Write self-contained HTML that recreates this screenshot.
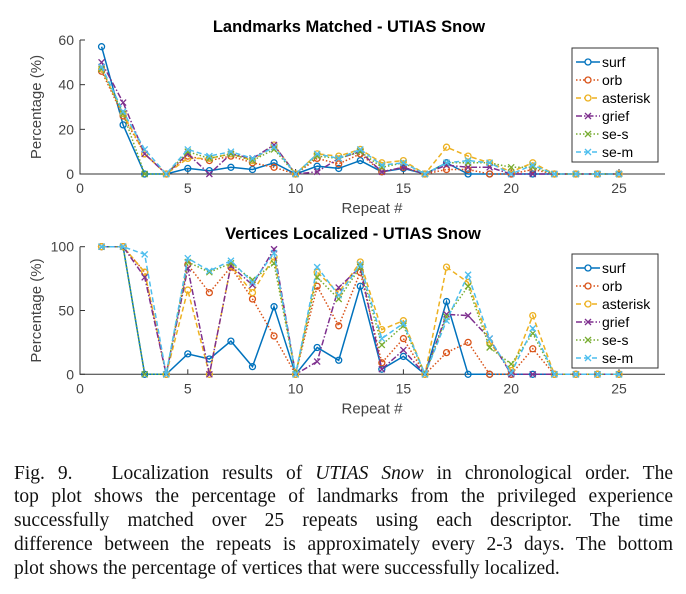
<!DOCTYPE html>
<html><head><meta charset="utf-8"><style>
body{margin:0;background:#fff;width:686px;height:594px;overflow:hidden;position:relative}
svg{position:absolute;left:0;top:0}
.cap{position:absolute;left:14px;width:659px;font-family:"Liberation Serif",serif;font-size:19.5px;color:#111;text-align:justify;text-align-last:justify;white-space:nowrap;line-height:24px}
</style></head><body>
<svg id="chart" width="686" height="460"></svg>
<div class="cap" style="top:462px">Fig. 9.&nbsp;&nbsp; Localization results of <i>UTIAS Snow</i> in chronological order. The</div>
<div class="cap" style="top:485px">top plot shows the percentage of landmarks from the privileged experience</div>
<div class="cap" style="top:509px">successfully matched over 25 repeats using each descriptor. The time</div>
<div class="cap" style="top:533px">difference between the repeats is approximately every 2-3 days. The bottom</div>
<div class="cap" style="top:557px;text-align-last:left">plot shows the percentage of vertices that were successfully localized.</div>
<script>
const repeats=[1,2,3,4,5,6,7,8,9,10,11,12,13,14,15,16,17,18,19,20,21,22,23,24,25];
const seriesNames=["surf","orb","asterisk","grief","se-s","se-m"];
const topSurf=[57,22,0,0,2.5,1.5,3,2,5,0,3.5,2.5,6,1,2.5,0,5,0,0,0,0,0,0,0,0];
const topOrb=[46,26,9,0,8,6,8,5,3,0,7,4.5,9,1,3,0,2,2,0,0,2,0,0,0,0];
const topAsterisk=[47,27,9,0,7,7,9,6,13,0,9,8,11,5,6,0,12,8,5,1,5,0,0,0,0];
const topGrief=[50,32,9,0,9,0,9,7,13,0,1,7,10,1,3,0,4,3,3,0,0,0,0,0,0];
const topSeS=[47,27,0,0,10,7,9,6,11,0,8,7,10,3,5,0,5,5,5,3,3,0,0,0,0];
const topSeM=[48,28,11,0,11,8,10,7,12,0,9,7,11,4,5,0,5,6,5,0,4,0,0,0,0];
const botSurf=[100,100,0,0,16,12,26,6,53,0,21,11,69,4,14,0,57,0,0,0,0,0,0,0,0];
const botOrb=[100,100,80,0,86,64,84,59,30,0,69,38,80,9,28,0,17,25,0,0,20,0,0,0,0];
const botAsterisk=[100,100,80,0,66,0,85,64,92,0,80,64,88,35,42,0,84,72,25,3,46,0,0,0,0];
const botGrief=[100,100,76,0,83,0,85,70,98,0,10,68,84,4,19,0,47,46,28,0,0,0,0,0,0];
const botSeS=[100,100,0,0,88,80,87,74,87,0,76,59,84,23,38,0,45,69,21,8,32,0,0,0,0];
const botSeM=[100,100,94,0,91,81,89,72,95,0,84,62,86,28,40,0,42,78,28,1,36,0,0,0,0];
const xTicks=[0,5,10,15,20,25];
const topYTicks=[0,20,40,60];
const botYTicks=[0,50,100];

const NS="http://www.w3.org/2000/svg";
const svg=document.getElementById('chart');
const colors=["#0072BD","#D95319","#EDB120","#7E2F8E","#77AC30","#4DBEEE"];
const dashes=["","1.5,2","5,3","6,2,1.5,2","1.5,2","5,3"];
const markers=["o","o","o","x","x","x"];
function mk(tag,attrs,parent){const e=document.createElementNS(NS,tag);for(const k in attrs)e.setAttribute(k,attrs[k]);(parent||svg).appendChild(e);return e;}
function xs(v){return 80+v*21.56;}

function drawPlot(cfg){
  const g=mk('g',{});
  
  
  const ys=v=>cfg.y0-(v/cfg.ymax)*(cfg.y0-cfg.ytop);
  const font='font-family:"Liberation Sans",Arial,sans-serif';
  const ax=mk('path',{d:`M80,${cfg.ytop}V${cfg.y0}H665`,stroke:'#333',fill:'none','stroke-width':1},g);
  
  
  xTicks.forEach(t=>{
    mk('line',{x1:xs(t),x2:xs(t),y1:cfg.y0,y2:cfg.y0-5,stroke:'#333'},g);
    const tx=mk('text',{x:xs(t),y:cfg.y0+19,'text-anchor':'middle','font-size':14,fill:'#444',style:font},g);
    tx.textContent=t;
    
    
  });
  cfg.yticks.forEach(t=>{
    mk('line',{x1:80,x2:85,y1:ys(t),y2:ys(t),stroke:'#333'},g);
    const tx=mk('text',{x:74,y:ys(t)+5,'text-anchor':'end','font-size':14,fill:'#444',style:font},g);
    tx.textContent=t;
    
    
  });
  const xl=mk('text',{x:372,y:cfg.y0+39,'text-anchor':'middle','font-size':15,fill:'#444',style:font},g);
  xl.textContent='Repeat #';
  
  
  const ym=(cfg.y0+cfg.ytop)/2;
  const yl=mk('text',{x:41,y:ym,'text-anchor':'middle','font-size':15,fill:'#444',style:font,transform:`rotate(-90 41 ${ym})`},g);
  yl.textContent='Percentage (%)';
  
  
  const ti=mk('text',{x:cfg.titleX,y:cfg.titleY,'text-anchor':'middle','font-size':16.5,'font-weight':'bold',fill:'#000',style:font},g);
  ti.textContent=cfg.title;
  
  
  cfg.series.forEach((data,i)=>{
    const pts=data.map((v,j)=>xs(repeats[j]).toFixed(1)+','+ys(v).toFixed(1)).join(' ');
    const ln=mk('polyline',{points:pts,fill:'none',stroke:colors[i],'stroke-width':1.5,'stroke-dasharray':dashes[i]},g);
    
    
    data.forEach((v,j)=>{
      const x=xs(repeats[j]),y=ys(v);
      if(markers[i]==='o'){mk('circle',{cx:x,cy:y,r:3,fill:'none',stroke:colors[i],'stroke-width':1.3},g);}
      else{mk('path',{d:`M${x-3},${y-3}L${x+3},${y+3}M${x-3},${y+3}L${x+3},${y-3}`,stroke:colors[i],'stroke-width':1.3},g);}
    });
  });
  const lg=mk('g',{},g);
  
  
  mk('rect',{x:572,y:cfg.legY,width:86,height:114,fill:'#fff',stroke:'#333','stroke-width':1},lg);
  seriesNames.forEach((n,i)=>{
    const y=cfg.legY+14+i*18;
    const e=mk('g',{},lg);
    
    
    mk('line',{x1:576,x2:600,y1:y,y2:y,stroke:colors[i],'stroke-width':1.5,'stroke-dasharray':dashes[i]},e);
    if(markers[i]==='o')mk('circle',{cx:588,cy:y,r:3,fill:'#fff',stroke:colors[i],'stroke-width':1.3},e);
    else mk('path',{d:`M585,${y-3}L591,${y+3}M585,${y+3}L591,${y-3}`,stroke:colors[i],'stroke-width':1.3},e);
    const t=mk('text',{x:602,y:y+5,'font-size':14,fill:'#000',style:font},e);
    t.textContent=n;
  });
}
drawPlot({name:'landmarks-matched-chart',title:'Landmarks Matched - UTIAS Snow',titleX:349,titleY:32,ytop:40,y0:174,ymax:60,yticks:topYTicks,legY:48,
  series:[topSurf,topOrb,topAsterisk,topGrief,topSeS,topSeM]});
drawPlot({name:'vertices-localized-chart',title:'Vertices Localized - UTIAS Snow',titleX:353,titleY:239,ytop:246.7,y0:374.3,ymax:100,yticks:botYTicks,legY:254,
  series:[botSurf,botOrb,botAsterisk,botGrief,botSeS,botSeM]});
</script>
</body></html>
